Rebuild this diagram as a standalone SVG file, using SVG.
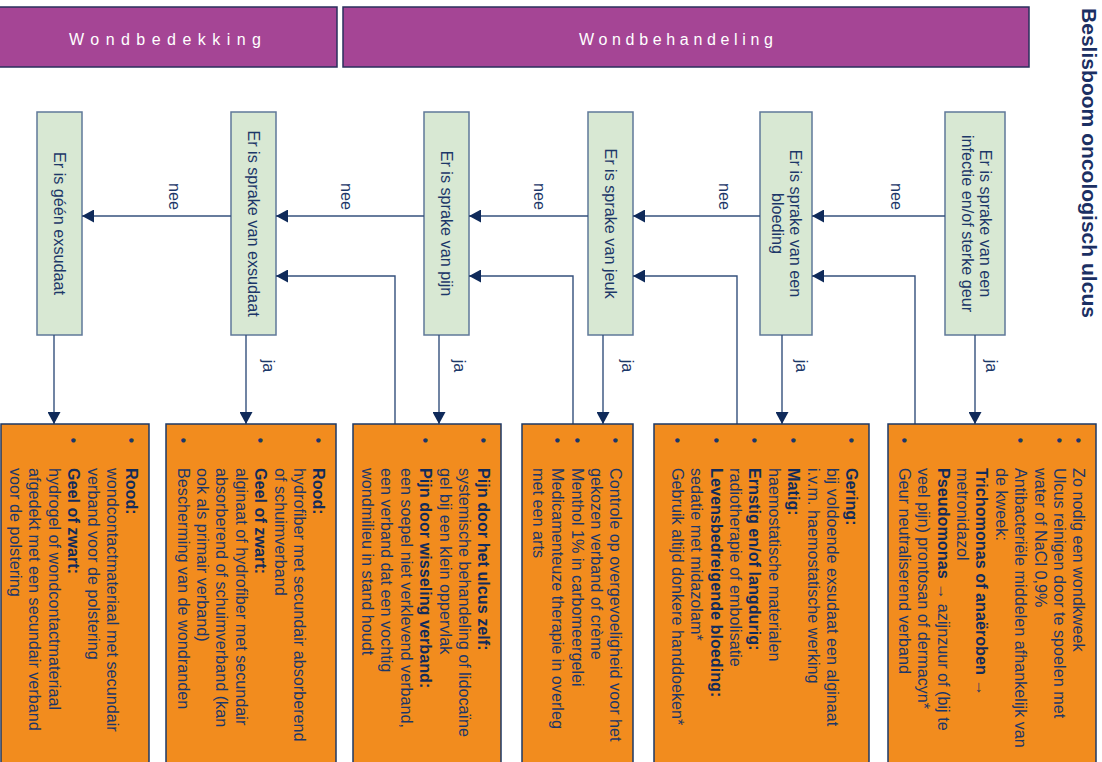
<svg xmlns="http://www.w3.org/2000/svg" width="1102" height="762" viewBox="0 0 1102 762">
<defs>
<style>
.hdr{fill:#a54595;stroke:#2a2f5c;stroke-width:1.5}
.hdrt{font-family:"Liberation Sans",Arial,sans-serif;font-size:16px;fill:#ffffff}
.q{fill:#d8e8d3;stroke:#5f7899;stroke-width:1.5}
.a{fill:#f28c1e;stroke:#1d3866;stroke-width:1.5}
.t{font-family:"Liberation Sans",Arial,sans-serif;font-size:16.2px;fill:#1c3768}
.b{font-weight:bold;fill:#112b5a}
.conn path{fill:none;stroke:#34507c;stroke-width:1.4}
.title{font-family:"Liberation Sans",Arial,sans-serif;font-size:21px;font-weight:bold;fill:#1b2f63}
</style>
<marker id="ah" markerUnits="userSpaceOnUse" markerWidth="13" markerHeight="13" refX="12" refY="6.5" orient="auto">
<path d="M0,0 L12,6.5 L0,13 z" fill="#0f2a5a"/>
</marker>
</defs>
<rect width="1102" height="762" fill="#ffffff"/>

<g id="headers">
<rect class="hdr" x="-2" y="7" width="339" height="60"/>
<text class="hdrt" x="69" y="45" textLength="192" lengthAdjust="spacing">Wondbedekking</text>
<rect class="hdr" x="343" y="7" width="686" height="60"/>
<text class="hdrt" x="579" y="45" textLength="194" lengthAdjust="spacing">Wondbehandeling</text>
</g>

<g id="title">
<text class="title" transform="translate(1082,8) rotate(90)" x="0" y="0" textLength="310" lengthAdjust="spacingAndGlyphs">Beslisboom oncologisch ulcus</text>
</g>

<g id="q-infectie">
<rect class="q" x="945" y="112" width="60" height="223"/>
<text class="t" transform="translate(976,223.5) rotate(90)" text-anchor="middle"><tspan x="0" y="-3.5">Er is sprake van een</tspan><tspan x="0" y="14.5">infectie en/of sterke geur</tspan></text>
</g>
<g id="q-bloeding">
<rect class="q" x="760" y="112" width="52" height="223"/>
<text class="t" transform="translate(786,223.5) rotate(90)" text-anchor="middle"><tspan x="0" y="-3.5">Er is sprake van een</tspan><tspan x="0" y="14.5">bloeding</tspan></text>
</g>
<g id="q-jeuk">
<rect class="q" x="588" y="112" width="45" height="223"/>
<text class="t" transform="translate(610.5,223.5) rotate(90)" text-anchor="middle" x="0" y="5.5">Er is sprake van jeuk</text>
</g>
<g id="q-pijn">
<rect class="q" x="424" y="112" width="45" height="223"/>
<text class="t" transform="translate(446.5,223.5) rotate(90)" text-anchor="middle" x="0" y="5.5">Er is sprake van pijn</text>
</g>
<g id="q-exsudaat">
<rect class="q" x="231" y="112" width="45" height="223"/>
<text class="t" transform="translate(253.5,223.5) rotate(90)" text-anchor="middle" x="0" y="5.5">Er is sprake van exsudaat</text>
</g>
<g id="q-geen">
<rect class="q" x="37" y="112" width="45" height="223"/>
<text class="t" transform="translate(59.5,223.5) rotate(90)" text-anchor="middle" x="0" y="5.5">Er is géén exsudaat</text>
</g>

<g id="connectors" class="conn">
<path d="M945,216 H812" marker-end="url(#ah)"/>
<path d="M760,216 H633" marker-end="url(#ah)"/>
<path d="M588,216 H469" marker-end="url(#ah)"/>
<path d="M424,216 H276" marker-end="url(#ah)"/>
<path d="M231,216 H82" marker-end="url(#ah)"/>
<path d="M975,335 V424" marker-end="url(#ah)"/>
<path d="M782,335 V424" marker-end="url(#ah)"/>
<path d="M603,335 V424" marker-end="url(#ah)"/>
<path d="M439,335 V424" marker-end="url(#ah)"/>
<path d="M246,335 V424" marker-end="url(#ah)"/>
<path d="M54,335 V424" marker-end="url(#ah)"/>
<path d="M915,424 V276 H812" marker-end="url(#ah)"/>
<path d="M737,424 V276 H633" marker-end="url(#ah)"/>
<path d="M573,424 V276 H469" marker-end="url(#ah)"/>
<path d="M395,424 V276 H276" marker-end="url(#ah)"/>
</g>

<g id="labels" class="t">
<text class="t" transform="translate(895,196.5) rotate(90)" text-anchor="middle" y="4.2">nee</text>
<text class="t" transform="translate(723,196.5) rotate(90)" text-anchor="middle" y="4.2">nee</text>
<text class="t" transform="translate(538,196.5) rotate(90)" text-anchor="middle" y="4.2">nee</text>
<text class="t" transform="translate(345,196.5) rotate(90)" text-anchor="middle" y="4.2">nee</text>
<text class="t" transform="translate(173,196.5) rotate(90)" text-anchor="middle" y="4.2">nee</text>
<text class="t" transform="translate(990,366) rotate(90)" text-anchor="middle" y="4.2">ja</text>
<text class="t" transform="translate(800,366) rotate(90)" text-anchor="middle" y="4.2">ja</text>
<text class="t" transform="translate(626,366) rotate(90)" text-anchor="middle" y="4.2">ja</text>
<text class="t" transform="translate(458,366) rotate(90)" text-anchor="middle" y="4.2">ja</text>
<text class="t" transform="translate(267,366) rotate(90)" text-anchor="middle" y="4.2">ja</text>
</g>

<g id="a-infectie">
<rect class="a" x="888" y="424" width="208" height="346"/>
<text class="t" transform="translate(1096,0) rotate(90)">
<tspan x="437.5" y="22.7">•</tspan><tspan x="468" y="22.7">Zo nodig een wondkweek</tspan>
<tspan x="437.5" y="42.1">•</tspan><tspan x="468" y="42.1">Ulcus reinigen door te spoelen met</tspan>
<tspan x="468" y="61.5">water of NaCl 0,9%</tspan>
<tspan x="437.5" y="80.9">•</tspan><tspan x="468" y="80.9">Antibacteriële middelen afhankelijk van</tspan>
<tspan x="468" y="100.3">de kweek:</tspan>
<tspan x="468" y="119.7" class="b">Trichomonas of anaëroben</tspan><tspan> →</tspan>
<tspan x="468" y="139.1">metronidazol</tspan>
<tspan x="468" y="158.5" class="b">Pseudomonas</tspan><tspan> → azijnzuur of (bij te</tspan>
<tspan x="468" y="177.9">veel pijn) prontosan of dermacyn*</tspan>
<tspan x="437.5" y="197.3">•</tspan><tspan x="468" y="197.3">Geur neutraliserend verband</tspan>
</text>
</g>

<g id="a-bloeding">
<rect class="a" x="654" y="424" width="215" height="346"/>
<text class="t" transform="translate(869,0) rotate(90)">
<tspan x="437.5" y="22.7">•</tspan><tspan x="468" y="22.7" class="b">Gering:</tspan>
<tspan x="468" y="42.1">bij voldoende exsudaat een alginaat</tspan>
<tspan x="468" y="61.5">i.v.m. haemostatische werking</tspan>
<tspan x="437.5" y="80.9">•</tspan><tspan x="468" y="80.9" class="b">Matig:</tspan>
<tspan x="468" y="100.3">haemostatische materialen</tspan>
<tspan x="437.5" y="119.7">•</tspan><tspan x="468" y="119.7" class="b">Ernstig en/of langdurig:</tspan>
<tspan x="468" y="139.1">radiotherapie of embolisatie</tspan>
<tspan x="437.5" y="158.5">•</tspan><tspan x="468" y="158.5" class="b">Levensbedreigende bloeding:</tspan>
<tspan x="468" y="177.9">sedatie met midazolam*</tspan>
<tspan x="437.5" y="197.3">•</tspan><tspan x="468" y="197.3">Gebruik altijd donkere handdoeken*</tspan>
</text>
</g>

<g id="a-jeuk">
<rect class="a" x="522" y="424" width="111" height="346"/>
<text class="t" transform="translate(633,0) rotate(90)">
<tspan x="437.5" y="22.7">•</tspan><tspan x="468" y="22.7">Controle op overgevoeligheid voor het</tspan>
<tspan x="468" y="42.1">gekozen verband of crème</tspan>
<tspan x="437.5" y="61.5">•</tspan><tspan x="468" y="61.5">Menthol 1% in carbomeergelei</tspan>
<tspan x="437.5" y="80.9">•</tspan><tspan x="468" y="80.9">Medicamenteuze therapie in overleg</tspan>
<tspan x="468" y="100.3">met een arts</tspan>
</text>
</g>

<g id="a-pijn">
<rect class="a" x="353" y="424" width="148" height="346"/>
<text class="t" transform="translate(501,0) rotate(90)">
<tspan x="437.5" y="22.7">•</tspan><tspan x="468" y="22.7" class="b">Pijn door het ulcus zelf:</tspan>
<tspan x="468" y="42.1">systemische behandeling of lidocaïne</tspan>
<tspan x="468" y="61.5">gel bij een klein oppervlak</tspan>
<tspan x="437.5" y="80.9">•</tspan><tspan x="468" y="80.9" class="b">Pijn door wisseling verband:</tspan>
<tspan x="468" y="100.3">een soepel niet verklevend verband,</tspan>
<tspan x="468" y="119.7">een verband dat een vochtig</tspan>
<tspan x="468" y="139.1">wondmilieu in stand houdt</tspan>
</text>
</g>

<g id="a-exsudaat">
<rect class="a" x="166" y="424" width="170" height="346"/>
<text class="t" transform="translate(336,0) rotate(90)">
<tspan x="437.5" y="22.7">•</tspan><tspan x="468" y="22.7" class="b">Rood:</tspan>
<tspan x="468" y="42.1">hydrofiber met secundair absorberend</tspan>
<tspan x="468" y="61.5">of schuimverband</tspan>
<tspan x="437.5" y="80.9">•</tspan><tspan x="468" y="80.9" class="b">Geel of zwart:</tspan>
<tspan x="468" y="100.3">alginaat of hydrofiber met secundair</tspan>
<tspan x="468" y="119.7">absorberend of schuimverband (kan</tspan>
<tspan x="468" y="139.1">ook als primair verband)</tspan>
<tspan x="437.5" y="158.5">•</tspan><tspan x="468" y="158.5">Bescherming van de wondranden</tspan>
</text>
</g>

<g id="a-geen">
<rect class="a" x="1" y="424" width="148" height="346"/>
<text class="t" transform="translate(149,0) rotate(90)">
<tspan x="437.5" y="22.7">•</tspan><tspan x="468" y="22.7" class="b">Rood:</tspan>
<tspan x="468" y="42.1">wondcontactmateriaal met secundair</tspan>
<tspan x="468" y="61.5">verband voor de polstering</tspan>
<tspan x="437.5" y="80.9">•</tspan><tspan x="468" y="80.9" class="b">Geel of zwart:</tspan>
<tspan x="468" y="100.3">hydrogel of wondcontactmateriaal</tspan>
<tspan x="468" y="119.7">afgedekt met een secundair verband</tspan>
<tspan x="468" y="139.1">voor de polstering</tspan>
</text>
</g>
</svg>
